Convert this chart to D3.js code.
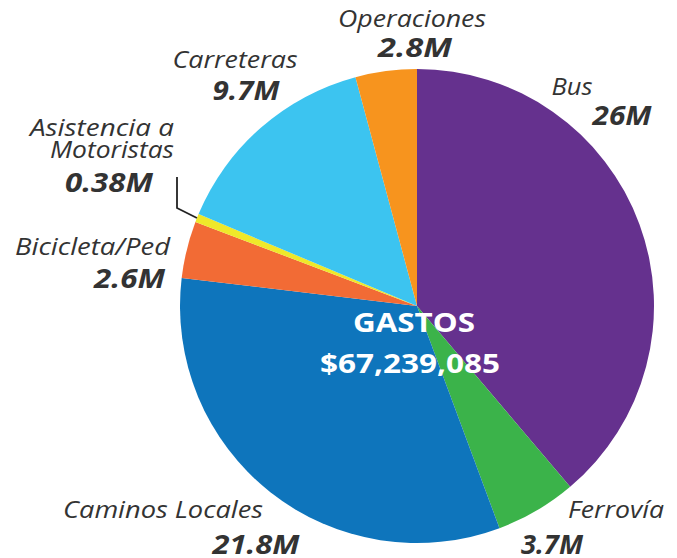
<!DOCTYPE html>
<html lang="es">
<head>
  <meta charset="UTF-8">
  <title>Gastos</title>
  <script src="https://d3js.org/d3.v7.min.js"></script>
  <style>
    body { margin: 0; background: #fff; }
    text { font-family: "Open Sans", Lato, sans-serif; fill: #333; }
  </style>
</head>
<body>
  <script>
    // datos (en millones)
    const categories = ['Bus', 'Ferrovía', 'Caminos Locales', 'Bicicleta/Ped',
                        'Asistencia a Motoristas', 'Carreteras', 'Operaciones']
    const values = [26, 3.7, 21.8, 2.6, 0.38, 9.7, 2.8]
    const valueLabels = ['26M', '3.7M', '21.8M', '2.6M', '0.38M', '9.7M', '2.8M']
    const colors = ['#65318e', '#3bb34a', '#0e75bc', '#f26b35', '#efe82a', '#3cc4f0', '#f7941e']
    const totalTitle = 'GASTOS'
    const totalLabel = '$67,239,085'

    const width = 677, height = 558
    const cx = 417, cy = 306, r = 237

    // etiquetas: [texto, x, y, ancho]
    const labelLayout = {
      'Bus':             { names: [['Bus', 572, 95, 41]], value: [622, 125, 59], anchor: 'middle' },
      'Ferrovía':        { names: [['Ferrovía', 616, 518, 96]], value: [552, 554, 62], anchor: 'middle' },
      'Caminos Locales': { names: [['Caminos Locales', 163, 518, 200]], value: [256, 554, 87], anchor: 'middle' },
      'Bicicleta/Ped':   { names: [['Bicicleta/Ped', 170, 255, 155]], value: [165, 288, 71], anchor: 'end' },
      'Asistencia a Motoristas': { names: [['Asistencia a', 174, 136, 144], ['Motoristas', 174, 158, 124]],
                                   value: [153, 192, 88], anchor: 'end' },
      'Carreteras':      { names: [['Carreteras', 235, 68, 125]], value: [246, 100, 67], anchor: 'middle' },
      'Operaciones':     { names: [['Operaciones', 412, 27, 148]], value: [415, 57, 74], anchor: 'middle' }
    }

    const svg = d3.select('body')
      .append('svg')
      .attr('width', width)
      .attr('height', height)

    const pie = d3.pie().sort(null).value(d => d)
    const arc = d3.arc().innerRadius(0).outerRadius(r)
    const arcs = pie(values)

    const g = svg.append('g').attr('transform', `translate(${cx},${cy})`)

    g.selectAll('path')
      .data(arcs)
      .enter()
      .append('path')
      .attr('d', arc)
      .style('fill', (d, i) => colors[i])

    // linea guia para Asistencia a Motoristas
    const small = arcs[4]
    const mid = (small.startAngle + small.endAngle) / 2
    const px = cx + Math.sin(mid) * r, py = cy - Math.cos(mid) * r
    svg.append('polyline')
      .attr('points', [[177, 177], [177, 208], [px, py]].map(p => p.join(',')).join(' '))
      .style('fill', 'none')
      .style('stroke', '#222')
      .style('stroke-width', 1.8)

    categories.forEach((c, i) => {
      const L = labelLayout[c]
      L.names.forEach(n => {
        svg.append('text')
          .attr('x', n[1])
          .attr('y', n[2])
          .attr('text-anchor', L.anchor)
          .attr('textLength', n[3])
          .attr('lengthAdjust', 'spacingAndGlyphs')
          .style('font-size', '23.5px')
          .style('font-style', 'italic')
          .style('font-weight', 500)
          .text(n[0])
      })
      svg.append('text')
        .attr('x', L.value[0])
        .attr('y', L.value[1])
        .attr('text-anchor', L.anchor)
        .attr('textLength', L.value[2])
        .attr('lengthAdjust', 'spacingAndGlyphs')
        .style('font-size', '27px')
        .style('font-style', 'italic')
        .style('font-weight', 700)
        .text(valueLabels[i])
    })

    svg.append('text')
      .attr('x', 414).attr('y', 332)
      .attr('text-anchor', 'middle')
      .attr('textLength', 122)
      .attr('lengthAdjust', 'spacingAndGlyphs')
      .style('fill', '#fff')
      .style('font-size', '27px')
      .style('font-weight', 700)
      .text(totalTitle)

    svg.append('text')
      .attr('x', 410).attr('y', 373)
      .attr('text-anchor', 'middle')
      .attr('textLength', 180)
      .attr('lengthAdjust', 'spacingAndGlyphs')
      .style('fill', '#fff')
      .style('font-size', '27px')
      .style('font-weight', 700)
      .text(totalLabel)
  </script>
</body>
</html>
